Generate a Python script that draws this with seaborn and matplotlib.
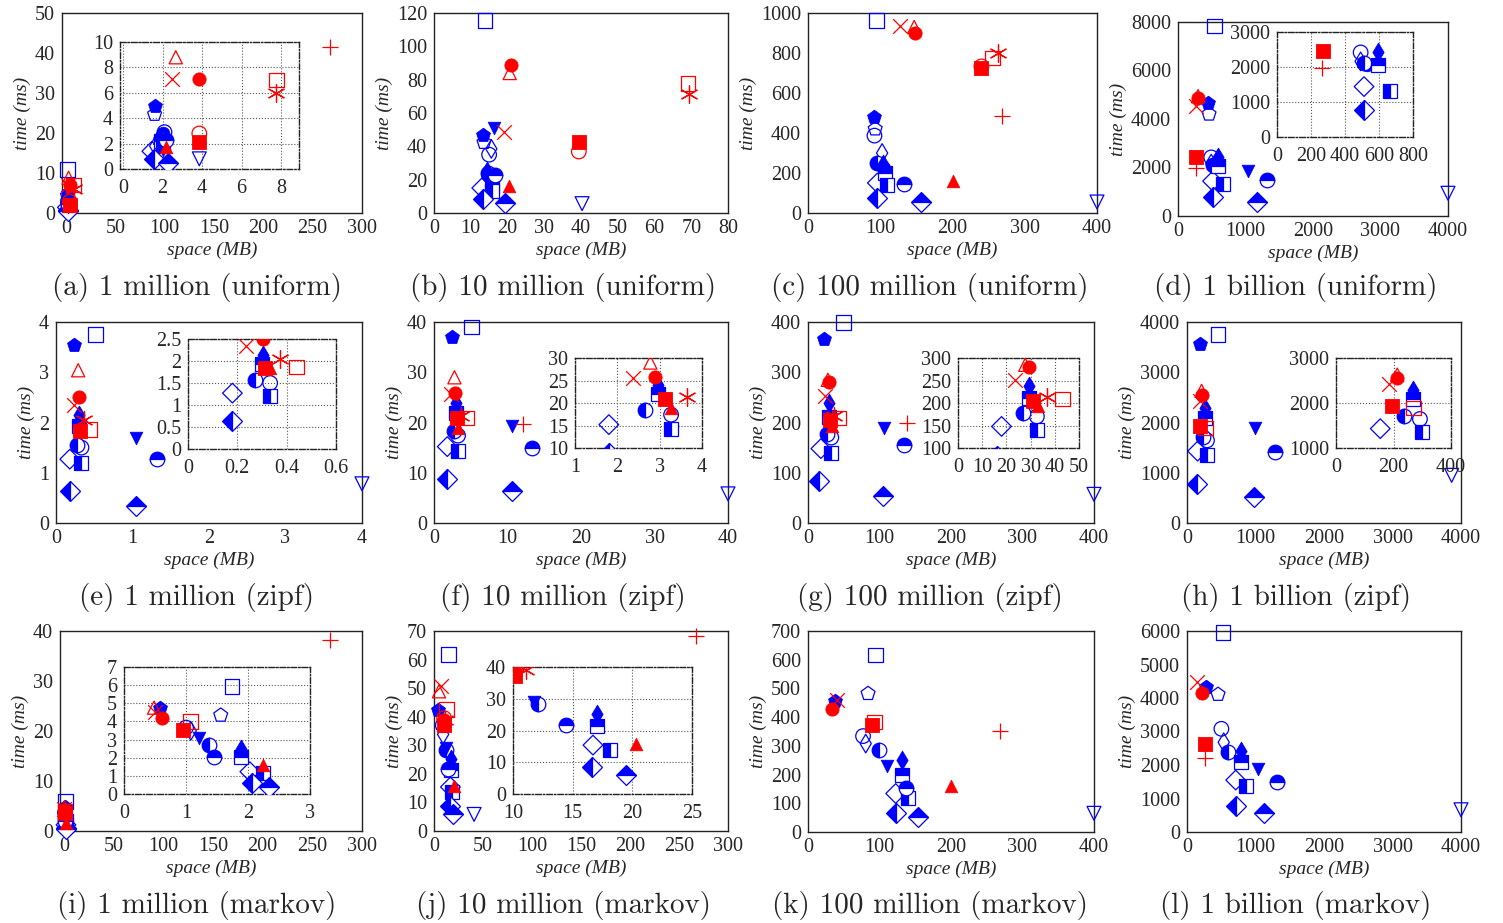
import numpy as np
import matplotlib
matplotlib.use("Agg")
import matplotlib.pyplot as plt
import seaborn as sns
from matplotlib.ticker import FuncFormatter, MultipleLocator

N = np.nan
BLUE = "#0000ff"
RED = "#ff0000"

# ── Values per method, one entry per panel (a b c d e f g h i j k l) ─────────
blue_sq_open_space = [1.7, 13.9, 94.6, 545, 0.52, 5.1, 50, 453, 1.745, 14.7, 94.6, 526]
blue_sq_open_time = [10.9, 115.6, 963, 7830, 3.75, 39, 399, 3753, 5.94, 61.8, 617, 5950]

blue_pent_fill_space = [1.6, 13.4, 91, 445, 0.235, 2.4, 23, 185, 0.576, 4.4, 37.3, 283]
blue_pent_fill_time = [5.0, 46.8, 480, 4660, 3.54, 37, 367, 3568, 4.76, 42.3, 455, 4340]

blue_pent_open_space = [1.6, 13.6, 93, 460, N, N, N, N, 1.56, N, 84, 453]
blue_pent_open_time = [4.3, 42.3, 420, 4200, N, N, N, N, 4.34, N, 482, 4107]

blue_circ_open_space = [2.1, 15, 92, 492, 0.333, 3.27, 32.6, 292, 1.0, 9.0, 77, 502]
blue_circ_open_time = [2.9, 35, 387, 2416, 1.5, 17.4, 170, 1644, 3.66, 37, 334, 3080]

blue_dia_small_open_space = [1.63, 15.6, 102.6, 492, N, N, N, N, 1.077, 9.3, 80.7, 536]
blue_dia_small_open_time = [1.8, 38.5, 300, 2160, N, N, N, N, 3.48, 33.8, 308, 2678]

blue_circ_quarter_space = [1.9, 14.8, 95.6, 512, 0.27, 2.66, 26.7, 236, 1.37, 12.1, 99.3, 599]
blue_circ_quarter_time = [2.4, 24, 250, 2110, 1.56, 18.4, 178, 1704, 2.69, 28.5, 285, 2376]

blue_dia_small_fill_space = [1.8, 14.5, 104, 597, 0.305, 2.96, 29.4, 267, 1.885, 17.0, 132, 784]
blue_dia_small_fill_time = [2.5, 25.5, 247, 2416, 2.14, 23.9, 238.5, 2296, 2.5, 25.3, 250, 2426]

blue_sq_top_space = [1.9, 15.9, 106, 597, 0.302, 2.96, 29.4, 267, 1.885, 17.0, 132, 794]
blue_sq_top_time = [2.2, 16, 200, 2060, 1.94, 21.9, 211, 2089, 2.05, 21.4, 198, 2094]

blue_sq_checker_space = [2.0, 15.7, 110, 662, 0.333, 3.27, 32.6, 298, 2.245, 18.1, 140, 867]
blue_sq_checker_time = [1.9, 13, 142, 1323, 1.2, 14.3, 139, 1348, 1.14, 13.8, 117, 1369]

blue_dia_open_space = [1.46, 13, 96, 512, 0.18, 1.8, 18, 154, 2.03, 16.7, 122.6, 711]
blue_dia_open_time = [1.4, 15, 150, 1440, 1.27, 15.2, 148, 1430, 1.23, 15.4, 134, 1550]

blue_dia_half_space = [1.58, 13.4, 96, 512, 0.18, 1.8, 16, 146, 2.06, 16.6, 123.5, 711]
blue_dia_half_time = [0.8, 8.4, 75, 767, 0.63, 8.8, 83, 782, 0.62, 8.6, 65, 765]

blue_dia_checker_space = [2.3, 19.4, 156, 1163, 1.05, 10.6, 105, 974, 2.337, 19.5, 154, 1120]
blue_dia_checker_time = [0.5, 6, 53, 565, 0.34, 6.3, 54, 517, 0.4, 6.0, 51, 564]

blue_tri_fill_space = [2.0, 16.2, N, 1040, 1.05, 10.6, 106, 998, 1.206, 11.74, 111, 1037]
blue_tri_fill_time = [1.5, 50.8, N, 1875, 1.7, 19.4, 190, 1897, 3.06, 29.0, 229, 1872]

blue_circ_top_space = [2.2, 16.6, 133, 1312, 1.32, 13.4, 134, 1281, 1.454, 14.4, 137.5, 1315]
blue_circ_top_time = [2.3, 23, 145, 1490, 1.28, 15, 155, 1412, 2.05, 21.7, 152, 1490]

blue_tri_open_space = [3.86, 40.3, 400, 4000, 4.0, 40, 400, 3863, N, 40.9, 400, 4000]
blue_tri_open_time = [0.8, 5.6, 55, 938, 0.78, 5.8, 57, 948, N, 5.8, 65, 664]

blue_circ_fill_space = [2.0, 14.3, 105, 528, N, N, N, N, N, N, N, N]
blue_circ_fill_time = [2.8, 23.5, 225, 2060, N, N, N, N, N, N, N, N]

red_circ_fill_space = [3.86, 20.9, 148, 297, 0.305, 2.88, 29.4, 213, 0.614, 10.06, 34, 224]
red_circ_fill_time = [7.1, 89, 900, 4870, 2.5, 25.8, 280, 2556, 4.2, 39, 430, 4138]

red_tri_open_space = [2.67, 20.6, 147, 297, 0.29, 2.78, 27.8, 213, 0.485, 5.1, N, N]
red_tri_open_time = [8.8, 84, 930, 4940, 3.04, 29.0, 285, 2630, 4.76, 48.9, N, N]

red_x_space = [2.47, 19.1, 127, 262, 0.236, 2.36, 23.6, 185, 0.5, 6.8, 40.6, 146]
red_x_time = [7.1, 48.8, 933, 4520, 2.35, 25.6, 252, 2430, 4.5, 50.8, 459, 4490]

red_star_space = [7.75, 69.4, 263, N, 0.371, 3.64, 36.7, N, N, 11.07, N, N]
red_star_time = [6.0, 71.4, 800, N, 2.05, 21.3, 213, N, N, 39, N, N]

red_sq_open_space = [7.75, 69.1, 255, N, 0.44, 4.5, 43.3, 269, 1.077, 12.5, 93, N]
red_sq_open_time = [7.0, 77.7, 775, N, 1.86, 20.9, 209, 1889, 3.98, 42.5, 383, N]

red_sq_fill_space = [3.86, 39.4, 240, 271, 0.313, 3.12, 30.8, 196, 0.953, 10.14, 89.5, 258]
red_sq_fill_time = [2.1, 42.9, 725, 2445, 1.84, 20.9, 204, 1926, 3.52, 37.1, 372, 2628]

red_circ_open_space = [3.86, 39.4, 240, N, N, N, N, N, N, 10.3, N, N]
red_circ_open_time = [2.8, 36.9, 733, N, N, N, N, N, N, 39.5, N, N]

red_tri_fill_space = [2.2, 20.5, 200, N, 0.332, 3.27, 32.9, N, 2.245, 20.3, 200, N]
red_tri_fill_time = [1.7, 16.3, 158, N, 1.84, 18.9, 193, N, 1.6, 15.7, 160, N]

red_plus_space = [268, N, 268, 267, N, 12.1, 138, N, 268, 267.6, 268, 258]
red_plus_time = [41.5, N, 483, 1985, N, 19.8, 200, N, 38.2, 68.2, 351, 2195]

CAPTIONS = [
    "(a) 1 million (uniform)", "(b) 10 million (uniform)",
    "(c) 100 million (uniform)", "(d) 1 billion (uniform)",
    "(e) 1 million (zipf)", "(f) 10 million (zipf)",
    "(g) 100 million (zipf)", "(h) 1 billion (zipf)",
    "(i) 1 million (markov)", "(j) 10 million (markov)",
    "(k) 100 million (markov)", "(l) 1 billion (markov)",
]

X_MAX = [300, 80, 400, 4000, 4, 40, 400, 4000, 300, 300, 400, 4000]
Y_MAX = [50, 120, 1000, 8000, 4, 40, 400, 4000, 40, 70, 700, 6000]
X_STEP = [50, 10, 100, 1000, 1, 10, 100, 1000, 50, 50, 100, 1000]
Y_STEP = [10, 20, 200, 2000, 1, 10, 100, 1000, 10, 10, 100, 1000]

# inset: panel index -> (xlim, ylim, xstep, ystep)
INSET_LIMITS = {
    0: ((-0.15, 8.9), (0, 10), 2, 2),
    3: ((0, 800), (0, 3000), 200, 1000),
    4: ((0, 0.6), (0, 2.5), 0.2, 0.5),
    5: ((1, 4), (10, 30), 1, 5),
    6: ((0, 50), (100, 300), 10, 50),
    7: ((0, 400), (1000, 3000), 200, 1000),
    8: ((0, 3), (0, 7), 1, 1),
    9: ((10, 25), (0, 40), 5, 10),
}

# ── Styles (marker, fill, colour, size) ──────────────────────────────────────
METHODS = [
    (blue_sq_open_space, blue_sq_open_time, "s", "none", BLUE, 10.5),
    (blue_pent_open_space, blue_pent_open_time, "p", "none", BLUE, 10.5),
    (blue_circ_open_space, blue_circ_open_time, "o", "none", BLUE, 10.5),
    (blue_dia_small_open_space, blue_dia_small_open_time, "d", "none", BLUE, 9.5),
    (blue_dia_open_space, blue_dia_open_time, "D", "none", BLUE, 10),
    (blue_tri_open_space, blue_tri_open_time, "v", "none", BLUE, 10),
    (blue_circ_fill_space, blue_circ_fill_time, "o", "full", BLUE, 9),
    (blue_pent_fill_space, blue_pent_fill_time, "p", "full", BLUE, 10.5),
    (blue_circ_quarter_space, blue_circ_quarter_time, "o", "left", BLUE, 10.5),
    (blue_dia_small_fill_space, blue_dia_small_fill_time, "d", "full", BLUE, 9.5),
    (blue_sq_top_space, blue_sq_top_time, "s", "top", BLUE, 10.5),
    (blue_sq_checker_space, blue_sq_checker_time, "s", "left", BLUE, 10),
    (blue_dia_half_space, blue_dia_half_time, "D", "left", BLUE, 10),
    (blue_dia_checker_space, blue_dia_checker_time, "D", "top", BLUE, 10),
    (blue_tri_fill_space, blue_tri_fill_time, "v", "full", BLUE, 9),
    (blue_circ_top_space, blue_circ_top_time, "o", "top", BLUE, 10.5),
    (red_circ_open_space, red_circ_open_time, "o", "none", RED, 10.5),
    (red_sq_open_space, red_sq_open_time, "s", "none", RED, 10.5),
    (red_tri_open_space, red_tri_open_time, "^", "none", RED, 9.5),
    (red_sq_fill_space, red_sq_fill_time, "s", "full", RED, 9.5),
    (red_tri_fill_space, red_tri_fill_time, "^", "full", RED, 9),
    (red_circ_fill_space, red_circ_fill_time, "o", "full", RED, 9.5),
    (red_x_space, red_x_time, "x", "line", RED, 10.5),
    (red_star_space, red_star_time, (6, 2, 0), "line", RED, 12.5),
    (red_plus_space, red_plus_time, "+", "line", RED, 11.5),
]

# axes boxes in pixels: left, top, right, bottom
MAIN_BOX = [
    (62, 13, 362, 213), (434, 13, 728, 213), (808, 13, 1097, 213), (1178, 22, 1448, 216),
    (56, 322, 362, 523), (434, 322, 728, 523), (808, 322, 1094, 523), (1187, 322, 1461, 523),
    (60, 631, 362, 831), (434, 631, 728, 831), (808, 631, 1094, 832), (1187, 631, 1461, 832),
]
INSET_BOX = {
    0: (120, 42, 299, 169), 3: (1277, 32, 1413, 137), 4: (188, 339, 336, 449),
    5: (575, 358, 702, 448), 6: (958, 358, 1079, 448), 7: (1336, 358, 1451, 448),
    8: (124, 667, 310, 794), 9: (513, 667, 692, 794),
}
CAPTION_X = [197, 563, 930, 1296] * 3
CAPTION_Y = [288] * 4 + [597] * 4 + [906] * 4

W, H = 1503, 923

sns.set_style("white")
plt.rcParams["font.family"] = ["Liberation Serif", "DejaVu Serif"]

fig = plt.figure(figsize=(W / 100, H / 100), dpi=100)
fmt = FuncFormatter(lambda v, _: f"{v:g}")


def box_to_rect(box):
    l, t, r, b = box
    return [l / W, 1 - b / H, (r - l) / W, (b - t) / H]


def draw_points(ax, k, clip):
    for xs, ys, marker, fill, color, ms in METHODS:
        x, y = xs[k], ys[k]
        if np.isnan(x):
            continue
        if fill in ("full", "none", "line"):
            kw = dict(marker=marker, s=ms ** 2, ax=ax, clip_on=clip, zorder=3, legend=False)
            if fill == "full":
                kw.update(color=color, edgecolor=color, linewidth=0.6)
            elif fill == "none":
                kw.update(facecolor="none", edgecolor=color, linewidth=0.9)
            else:
                kw.update(color=color, linewidth=0.9)
            sns.scatterplot(x=[x], y=[y], **kw)
        else:
            ax.plot([x], [y], marker=marker, ms=ms, fillstyle=fill, ls="none",
                    markerfacecolor=color, markerfacecoloralt="white",
                    markeredgecolor=color, mew=0.9, clip_on=clip, zorder=3)


def style_axes(ax, xstep, ystep, xpad=4):
    ax.xaxis.set_major_locator(MultipleLocator(xstep))
    ax.yaxis.set_major_locator(MultipleLocator(ystep))
    ax.xaxis.set_major_formatter(fmt)
    ax.yaxis.set_major_formatter(fmt)
    ax.tick_params(axis="both", labelsize=14.5, direction="in", length=3, width=0.6)
    ax.tick_params(axis="x", pad=xpad)
    ax.tick_params(axis="y", pad=5)


for k in range(12):
    ax = fig.add_axes(box_to_rect(MAIN_BOX[k]))
    draw_points(ax, k, clip=False)
    x0 = -4 if k in (0, 8) else 0
    ax.set_xlim(x0, X_MAX[k])
    ax.set_ylim(0, Y_MAX[k])
    style_axes(ax, X_STEP[k], Y_STEP[k])
    for sp in ax.spines.values():
        sp.set_color("#222222")
        sp.set_linewidth(1.0)
    ax.set_xlabel("space (MB)", style="italic", fontsize=14, labelpad=3)
    ax.set_ylabel("time (ms)", style="italic", fontsize=14, labelpad=3)

    if k in INSET_LIMITS:
        xl, yl, xs, ys = INSET_LIMITS[k]
        ins = fig.add_axes(box_to_rect(INSET_BOX[k]))
        ins.set_facecolor("white")
        draw_points(ins, k, clip=True)
        ins.set_xlim(*xl)
        ins.set_ylim(*yl)
        style_axes(ins, xs, ys, xpad=7)
        ins.tick_params(length=0)
        ins.grid(True, linestyle=":", color="#555555", linewidth=0.8)
        ins.set_axisbelow(True)
        for sp in ins.spines.values():
            sp.set_color("#222222")
            sp.set_linewidth(1.0)
            sp.set_linestyle((0, (4, 1.5, 1, 1.5)))

    fig.text(CAPTION_X[k] / W, 1 - CAPTION_Y[k] / H, CAPTIONS[k],
             ha="center", va="center", fontsize=21, family=["cmr10", "DejaVu Serif"])

fig.savefig("out.png", dpi=100)
